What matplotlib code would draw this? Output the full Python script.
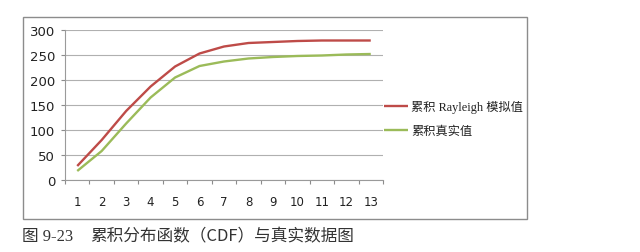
import matplotlib
matplotlib.use("Agg")
import matplotlib.pyplot as plt
from matplotlib.patches import Rectangle

categories = [str(i) for i in range(1, 14)]
rayleigh = [28, 80, 138, 187, 227, 253, 267, 274, 276, 278, 279, 279, 279]
real = [18, 58, 113, 165, 205, 228, 237, 243, 246, 248, 249, 251, 252]
yticks = [0, 50, 100, 150, 200, 250, 300]
labels = ["累积 Rayleigh 模拟值", "累积真实值"]
caption_num = "图 9-23"
caption_text = "累积分布函数（CDF）与真实数据图"

W, H = 640, 253
fig = plt.figure(figsize=(W / 100, H / 100), dpi=100)
fig.patch.set_facecolor("white")

# outer chart border
fig.patches.append(Rectangle((23 / W, 1 - 220 / H), (527 - 23) / W, (220 - 18) / H,
                             transform=fig.transFigure, fill=False,
                             edgecolor="#8c8c8c", linewidth=1.0))

ax = fig.add_axes([65 / W, 1 - 181 / H, 318 / W, 150 / H])
x = list(range(len(categories)))
ax.plot(x, rayleigh, color="#BE4B48", linewidth=1.7, solid_capstyle="butt")
ax.plot(x, real, color="#9BBB59", linewidth=1.7, solid_capstyle="butt")

ax.set_xlim(-0.5, len(categories) - 0.5)
ax.set_ylim(0, 300)
ax.set_yticks(yticks)
ax.set_yticklabels([str(v) for v in yticks], fontsize=9.5, color="#222222",
                   family=["DejaVu Sans"])
ax.set_xticks(x)
ax.set_xticklabels(categories, fontsize=8.5, color="#222222", family=["DejaVu Sans"])
ax.set_xticks([i - 0.5 for i in range(len(categories) + 1)], minor=True)
ax.tick_params(axis="x", which="major", length=0, pad=11)
ax.tick_params(axis="x", which="minor", length=3, color="#8c8c8c", width=0.8)
ax.tick_params(axis="y", length=3, color="#8c8c8c", width=0.8, pad=4)
ax.grid(axis="y", color="#b0b0b0", linewidth=0.8)
ax.set_axisbelow(True)
for s in ["top", "right"]:
    ax.spines[s].set_visible(False)
for s in ["left", "bottom"]:
    ax.spines[s].set_color("#9a9a9a")
    ax.spines[s].set_linewidth(0.8)

leg = fig.legend(ax.lines, labels, loc="center left",
                 bbox_to_anchor=(384 / W, 1 - 119.5 / H), frameon=False,
                 prop={"family": ["Liberation Serif", "Noto Sans CJK SC"], "size": 8.8},
                 handlelength=2.0, handletextpad=0.2, labelspacing=1.0,
                 borderpad=0, borderaxespad=0)
for t in leg.get_texts():
    t.set_color("#222222")

fig.text(22 / W, 1 - 237 / H, caption_num, fontsize=12, color="#333333",
         family=["Liberation Serif", "Noto Sans CJK SC"], va="center", ha="left")
fig.text(90 / W, 1 - 237 / H, caption_text, fontsize=12, color="#333333",
         family=["Noto Sans CJK SC", "Liberation Serif"], va="center", ha="left")

fig.savefig("out.png", dpi=100)
